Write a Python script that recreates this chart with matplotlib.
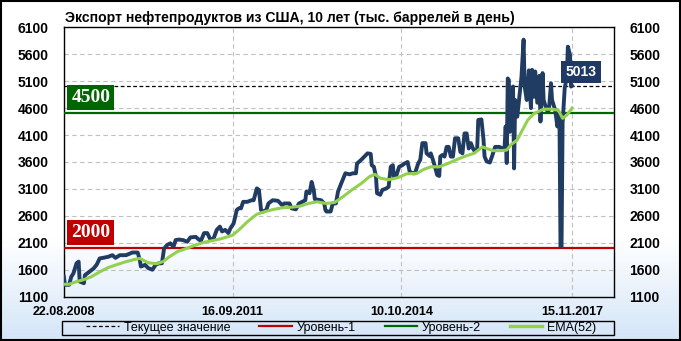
import numpy as np
import matplotlib
matplotlib.use('Agg')
import matplotlib.pyplot as plt
from matplotlib.patches import Rectangle
from matplotlib.lines import Line2D
from matplotlib.colors import LinearSegmentedColormap

# week index (0 = 22.08.2008) and export values, thousand barrels per day
weeks = [0, 1, 5, 7, 9, 12, 14, 15, 19, 20, 24, 28, 31, 34, 37, 42, 46, 49, 53, 59,
         65, 70, 72, 73, 77, 80, 84, 87, 90, 93, 95, 98, 101, 104, 106, 109, 113, 117, 120, 125,
         128, 130, 133, 136, 139, 142, 145, 148, 150, 153, 156, 158, 161, 164, 166, 168, 170, 174, 178, 180,
         183, 185, 187, 189, 192, 194, 198, 203, 207, 209, 214, 216, 220, 223, 226, 229, 230, 233, 235, 237,
         238, 244, 247, 248, 249, 253, 255, 258, 260, 263, 267, 271, 274, 277, 278, 282, 285, 288, 291, 292,
         294, 296, 297, 300, 302, 306, 308, 310, 312, 313, 315, 318, 321, 323, 326, 328, 331, 333, 336, 338,
         340, 343, 344, 347, 348, 350, 352, 354, 356, 357, 359, 361, 363, 365, 367, 369, 371, 374, 376, 378,
         380, 382, 384, 386, 388, 390, 392, 393, 396, 398, 399, 401, 404, 406, 409, 413, 416, 418, 419, 420,
         421, 422, 423, 424, 426, 427, 428, 430, 432, 434, 436, 437, 439, 441, 443, 444, 446, 447, 449, 451,
         452, 454, 455, 458, 460, 462, 463, 466, 468, 470, 471, 472, 473, 475, 477, 478, 480, 481, 482]
exports = [1470, 1320, 1320, 1470, 1530, 1720, 1750, 1380, 1350, 1500, 1560, 1620, 1690, 1810, 1820, 1840, 1870, 1820, 1870, 1870,
           1920, 1920, 1780, 1660, 1690, 1630, 1600, 1690, 1720, 1720, 1990, 2060, 2090, 2030, 2150, 2160, 2150, 2120, 2200, 2210,
           2160, 2140, 2280, 2280, 2160, 2180, 2340, 2400, 2310, 2340, 2280, 2370, 2460, 2710, 2740, 2740, 2860, 2860, 2890, 2890,
           3110, 3080, 2710, 2680, 2710, 2830, 2890, 2880, 2800, 2830, 2830, 2740, 2720, 2830, 2860, 2890, 3050, 3020, 3230, 3080,
           2910, 2890, 2830, 2710, 2680, 2680, 2830, 2830, 3050, 3200, 3390, 3370, 3390, 3390, 3570, 3640, 3700, 3760, 3750, 3540,
           3510, 3330, 3020, 2990, 3080, 3110, 3140, 3510, 3540, 3330, 3330, 3510, 3540, 3570, 3600, 3420, 3390, 3390, 3570, 3640,
           3950, 3950, 3760, 3710, 3760, 3640, 3510, 3360, 3340, 3700, 3730, 3700, 3880, 3880, 3700, 3700, 4040, 4040, 3790, 3760,
           4130, 4130, 3850, 3950, 3850, 3790, 3850, 4380, 4390, 4010, 3700, 3610, 3590, 3700, 3880, 3880, 3850, 3880, 4260, 3580,
           5150, 5120, 4160, 4260, 5000, 3480, 4750, 4440, 4810, 5180, 5870, 5000, 4750, 5300, 4600, 5310, 4810, 5280, 4700, 5200,
           4350, 5250, 4750, 4560, 4560, 5060, 4750, 4560, 4260, 4470, 2030, 2030, 4320, 4970, 5180, 5740, 5590, 5000, 5013]

ema_weeks = [0, 5, 12, 18, 26, 34, 42, 51, 59, 67, 72, 80, 88, 94, 100, 108, 117, 125, 133, 141,
             150, 160, 166, 174, 183, 191, 199, 207, 216, 224, 232, 240, 249, 257, 265, 273, 282, 290, 295, 300,
             308, 317, 325, 335, 341, 348, 356, 364, 372, 381, 389, 397, 401, 407, 414, 420, 424, 430, 434, 440,
             446, 455, 463, 469, 473, 477, 482]
ema_values = [1330, 1330, 1380, 1410, 1470, 1560, 1640, 1700, 1750, 1790, 1810, 1730, 1710, 1750, 1840, 1940, 2000, 2060, 2110, 2140,
              2180, 2240, 2340, 2490, 2630, 2680, 2720, 2750, 2760, 2780, 2830, 2860, 2830, 2850, 2960, 3080, 3200, 3330, 3370, 3300,
              3270, 3310, 3380, 3390, 3460, 3510, 3510, 3570, 3640, 3710, 3760, 3880, 3850, 3810, 3810, 3820, 3920, 4010, 4160, 4380,
              4500, 4580, 4580, 4560, 4410, 4470, 4600]

level1 = 2000
level2 = 4500
current = 5013

tick_weeks = [0, 160, 320, 482]
tick_labels = ['22.08.2008', '16.09.2011', '10.10.2014', '15.11.2017']
yticks = list(range(1100, 6101, 500))

navy = '#213c62'
red = '#c00000'
dgreen = '#006600'
lgreen = '#92d050'
fnt = 'Liberation Sans'

fig = plt.figure(figsize=(6.81, 3.41), dpi=100)

# background gradient (white -> light blue towards bottom)
bg = fig.add_axes([0, 0, 1, 1], zorder=-5)
cmap = LinearSegmentedColormap.from_list('bg', ['white', '#d4e5f8'])
grad = np.linspace(1, 0, 300).reshape(-1, 1)
grad = np.clip((0.30 - grad) / 0.30, 0, 1)
bg.imshow(grad, aspect='auto', cmap=cmap, extent=[0, 1, 0, 1], vmin=0, vmax=1)
bg.axis('off')
fig.patches.append(Rectangle((0.002, 0.003), 0.996, 0.994, transform=fig.transFigure,
                             fill=False, edgecolor='black', linewidth=1.5))

ax = fig.add_axes([0.0938, 0.130, 0.8082, 0.790])
ax.patch.set_alpha(0)

ax.plot(weeks, exports, color=navy, linewidth=2.8, solid_joinstyle='round', zorder=4)
ax.plot(ema_weeks, ema_values, color=lgreen, linewidth=2.2, zorder=5)
ax.axhline(level1, color=red, linewidth=1.6, zorder=3)
ax.axhline(level2, color=dgreen, linewidth=1.6, zorder=3)
ax.axhline(current, color='black', linewidth=0.9, linestyle=(0, (3, 2)), zorder=3)

ax.set_xlim(0, 522)
ax.set_ylim(1100, 6100)
ax.set_yticks(yticks)
ax.set_xticks(tick_weeks)
ax.set_xticklabels(tick_labels)
ax.tick_params(axis='both', length=0)
ax.tick_params(axis='y', pad=11, labelright=True, right=False)
ax.tick_params(axis='x', pad=7)
for lab in ax.get_yticklabels():
    lab.set_fontfamily(fnt)
    lab.set_fontweight('bold')
    lab.set_fontsize(10)
for lab in ax.get_xticklabels():
    lab.set_fontfamily(fnt)
    lab.set_fontweight('bold')
    lab.set_fontsize(9)
ax.grid(True, color='#c0c0c0', linestyle=(0, (4, 3)), linewidth=0.8)
for s in ax.spines.values():
    s.set_linewidth(1.0)
    s.set_color('black')

# value labels
ax.text(7, 4800, str(level2), color='white', fontsize=14, fontweight='bold', family='Liberation Serif',
        ha='left', va='center', zorder=6,
        bbox=dict(boxstyle='square,pad=0.2', facecolor=dgreen, edgecolor='none'))
ax.text(7, 2290, str(level1), color='white', fontsize=14, fontweight='bold', family='Liberation Serif',
        ha='left', va='center', zorder=6,
        bbox=dict(boxstyle='square,pad=0.2', facecolor=red, edgecolor='none'))
ax.text(490.5, 5270, str(current), color='white', fontsize=10, fontweight='bold', family=fnt,
        ha='center', va='center', zorder=6,
        bbox=dict(boxstyle='square,pad=0.3', facecolor='#1f3864', edgecolor='none'))

fig.text(0.0955, 0.948, 'Экспорт нефтепродуктов из США, 10 лет (тыс. баррелей в день)',
         family=fnt, fontweight='bold', fontsize=10.1, ha='left', va='center')

handles = [Line2D([], [], color='black', linewidth=0.9, linestyle=(0, (3, 2))),
           Line2D([], [], color=red, linewidth=1.6),
           Line2D([], [], color=dgreen, linewidth=1.6),
           Line2D([], [], color=lgreen, linewidth=2.5)]
labels = ['Текущее значение', 'Уровень-1', 'Уровень-2', 'EMA(52)']
fig.patches.append(Rectangle((0.091, 0.0176), 0.811, 0.042, transform=fig.transFigure,
                             fill=False, edgecolor='black', linewidth=1.0))
fig.legend(handles, labels, loc='center', bbox_to_anchor=(0.5015, 0.0386), ncol=4, frameon=False,
           prop={'family': fnt, 'size': 9}, handlelength=2.6, handletextpad=0.4, columnspacing=2.3,
           borderpad=0)

fig.savefig('out.png', dpi=100)
